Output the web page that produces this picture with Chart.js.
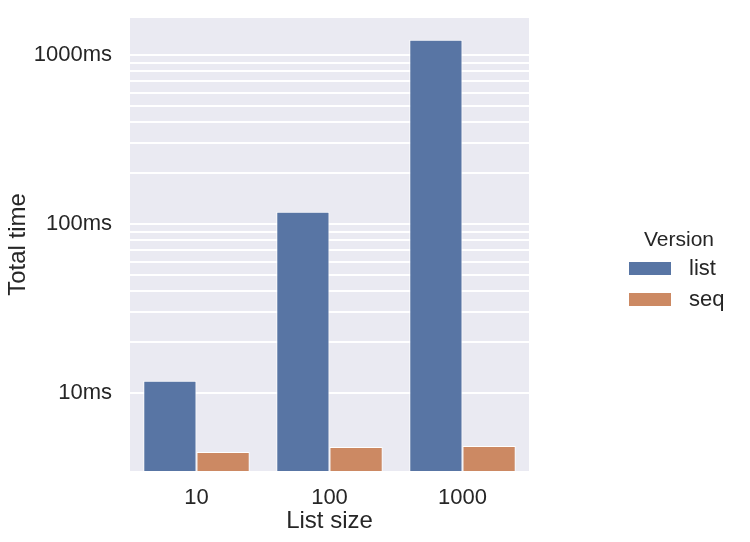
<!DOCTYPE html>
<html>
<head>
<meta charset="utf-8">
<script src="https://cdn.jsdelivr.net/npm/chart.js@4"></script>
<style>
  html, body { margin: 0; padding: 0; background: #fff; }
  #wrap { width: 750px; height: 542px; }
</style>
</head>
<body>
<div id="wrap"><canvas id="timeChart" width="750" height="542"></canvas></div>
<script>
// values
const listSizes = ['10', '100', '1000'];
const listTimes = [11.8, 118, 1230];
const seqTimes = [4.48, 4.79, 4.86];
const yTicks = [10, 20, 30, 40, 50, 60, 70, 80, 90, 100, 200, 300, 400, 500, 600, 700, 800, 900, 1000];
const labelledTicks = [10, 100, 1000];

const fontFam = '"Liberation Sans", Arial, sans-serif';
const textColor = '#262626';
const blue = '#5875a4';
const orange = '#cc8963';

const plotBg = {
    id: 'plotBg',
    beforeDraw(chart) {
        const a = chart.chartArea;
        const ctx = chart.ctx;
        ctx.save();
        ctx.fillStyle = '#eaeaf2';
        ctx.fillRect(a.left, a.top, a.right - a.left, a.bottom - a.top);
        ctx.restore();
    }
};

// legend drawn by hand to sit like seaborn's outside the axes
const sideLegend = {
    id: 'sideLegend',
    afterDraw(chart) {
        const ctx = chart.ctx;
        ctx.save();
        ctx.fillStyle = textColor;
        ctx.font = '21px ' + fontFam;
        ctx.textAlign = 'center';
        ctx.textBaseline = 'middle';
        ctx.fillText('Version', 679, 240);
        const items = [['list', blue, 269], ['seq', orange, 300]];
        items.forEach(([name, col, y]) => {
            ctx.fillStyle = col;
            ctx.fillRect(629, y - 7, 42, 13);
            ctx.fillStyle = textColor;
            ctx.font = '22px ' + fontFam;
            ctx.textAlign = 'left';
            ctx.fillText(name, 689, y);
        });
        ctx.restore();
    }
};

const ctx = document.getElementById('timeChart').getContext('2d');
const timeChart = new Chart(ctx, {
    type: 'bar',
    data: {
        labels: listSizes,
        datasets: [
            { label: 'list', data: listTimes, backgroundColor: blue, borderColor: '#fff', borderWidth: 1 },
            { label: 'seq', data: seqTimes, backgroundColor: orange, borderColor: '#fff', borderWidth: 1 }
        ]
    },
    options: {
        responsive: false,
        animation: false,
        layout: { padding: { top: 18, right: 221, left: 0, bottom: 0 } },
        datasets: { bar: { categoryPercentage: 0.8, barPercentage: 1.0 } },
        plugins: {
            legend: { display: false },
            tooltip: { enabled: false }
        },
        scales: {
            x: {
                grid: { display: false, drawTicks: false },
                border: { display: false },
                ticks: { color: textColor, font: { family: fontFam, size: 22 }, padding: 14 },
                title: { display: true, text: 'List size', color: textColor, font: { family: fontFam, size: 24 }, padding: { top: 0, bottom: 6 } },
                afterFit(scale) { scale.height = 71; }
            },
            y: {
                type: 'logarithmic',
                min: 3.455,
                max: 1656,
                grid: { color: '#ffffff', lineWidth: 2, drawTicks: false },
                border: { display: false },
                afterBuildTicks(scale) {
                    scale.ticks = yTicks.map(v => ({ value: v }));
                },
                ticks: {
                    autoSkip: false,
                    color: textColor,
                    font: { family: fontFam, size: 22 },
                    padding: 18,
                    callback: v => labelledTicks.includes(v) ? v + 'ms' : ''
                },
                title: { display: true, text: 'Total time', color: textColor, font: { family: fontFam, size: 24 }, padding: { top: 4, bottom: 0 } },
                afterFit(scale) {
                    scale.width = 130;
                    scale.paddingTop = 0;
                    scale.paddingBottom = 0;
                }
            }
        }
    },
    plugins: [plotBg, sideLegend]
});
</script>
</body>
</html>
